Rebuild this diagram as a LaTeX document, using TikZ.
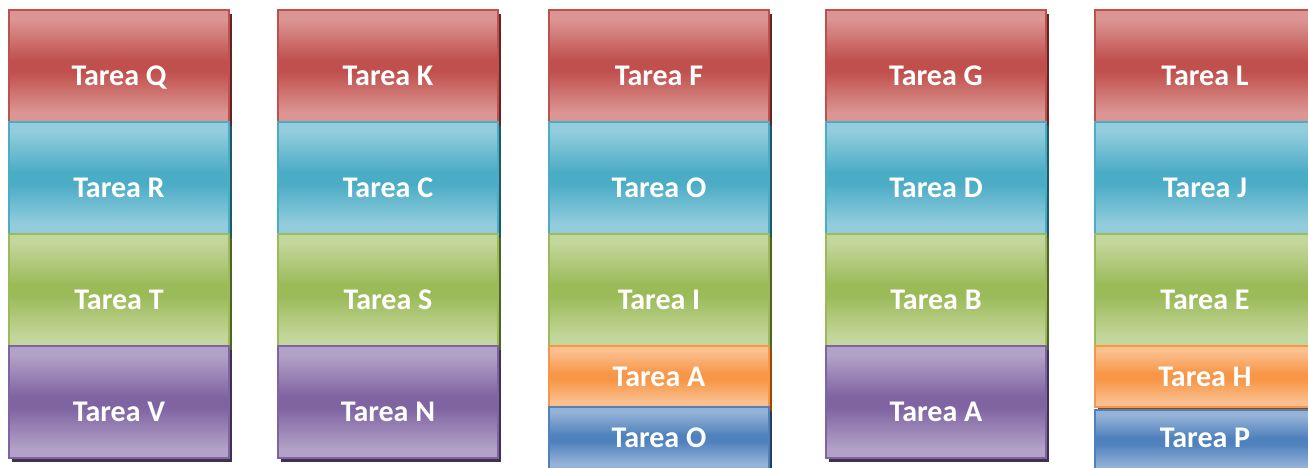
\documentclass[tikz,border=0pt]{standalone}
\usepackage{fontspec}
\setmainfont{Carlito}
\usetikzlibrary{shadows}
\definecolor{rL}{RGB}{219,150,148}\definecolor{rM}{RGB}{192,80,77}\definecolor{rD}{RGB}{99,37,35}
\definecolor{aL}{RGB}{147,205,221}\definecolor{aM}{RGB}{75,172,198}\definecolor{aD}{RGB}{32,88,103}
\definecolor{gL}{RGB}{195,214,155}\definecolor{gM}{RGB}{155,187,89}\definecolor{gD}{RGB}{79,98,40}
\definecolor{pL}{RGB}{179,162,199}\definecolor{pM}{RGB}{128,100,162}\definecolor{pD}{RGB}{64,49,82}
\definecolor{oL}{RGB}{250,192,144}\definecolor{oM}{RGB}{247,150,70}\definecolor{oD}{RGB}{152,72,6}
\definecolor{bL}{RGB}{149,179,215}\definecolor{bM}{RGB}{79,129,189}\definecolor{bD}{RGB}{36,64,97}
\newcommand\mkshade[3]{\pgfdeclareverticalshading{#1}{100bp}{color(0bp)=(#2); color(25bp)=(#2); color(29bp)=(#2); color(47.5bp)=(#3); color(52.5bp)=(#3); color(71bp)=(#2); color(75bp)=(#2); color(100bp)=(#2)}}
\mkshade{shr}{rL}{rM}\mkshade{sha}{aL}{aM}\mkshade{shg}{gL}{gM}
\mkshade{shp}{pL}{pM}\mkshade{sho}{oL}{oM}\mkshade{shb}{bL}{bM}
\tikzset{
  lbl/.style={text=white, font=\bfseries\fontsize{30}{34}\selectfont},
  tbox/.style n args={3}{rectangle, anchor=north west, minimum width=220pt, inner sep=0pt, outer sep=0pt,
    line width=1.5pt, draw=#2, shading=#1,
    drop shadow={shadow xshift=3pt, shadow yshift=-4pt, fill=#3, opacity=1}, lbl},
  tall/.style={minimum height=112pt, text height=39pt, text depth=0pt},
  short/.style={minimum height=61pt},
  red/.style={tbox={shr}{rM}{rD}}, aqua/.style={tbox={sha}{aM}{aD}},
  grn/.style={tbox={shg}{gM}{gD}}, pur/.style={tbox={shp}{pM}{pD}},
  org/.style={tbox={sho}{oM}{oD}}, blu/.style={tbox={shb}{bM}{bD}}
}
\begin{document}
\begin{tikzpicture}[x=1pt,y=-1pt]
\useasboundingbox (0,0) rectangle (1308,468);
\clip (0,0) rectangle (1308,468);
% column 1
\node[red,tall]  (q) at (9,10)  {Tarea Q};
\node[aqua,tall] (r) at (9,122) {Tarea R};
\node[grn,tall]  (t) at (9,234) {Tarea T};
\node[pur,tall]  (v) at (9,346) {Tarea V};
% column 2
\node[red,tall]  (k) at (278,10)  {Tarea K};
\node[aqua,tall] (c) at (278,122) {Tarea C};
\node[grn,tall]  (s) at (278,234) {Tarea S};
\node[pur,tall]  (n) at (278,346) {Tarea N};
% column 3
\node[red,tall]  (f)  at (549,10)  {Tarea F};
\node[aqua,tall] (o1) at (549,122) {Tarea O};
\node[grn,tall]  (i)  at (549,234) {Tarea I};
\node[org,short] (a1) at (549,346) {Tarea A};
\node[blu,minimum height=62pt] (o2) at (549,407) {};
\node[lbl] (o2t) at (659,438) {Tarea O};
% column 4
\node[red,tall]  (g)  at (826,10)  {Tarea G};
\node[aqua,tall] (d)  at (826,122) {Tarea D};
\node[grn,tall]  (b)  at (826,234) {Tarea B};
\node[pur,tall]  (a2) at (826,346) {Tarea A};
% column 5
\node[red,tall]  (l) at (1095,10)  {Tarea L};
\node[aqua,tall] (j) at (1095,122) {Tarea J};
\node[grn,tall]  (e) at (1095,234) {Tarea E};
\node[org,short] (h) at (1095,346) {Tarea H};
\node[blu,minimum height=62pt] (p) at (1095,410) {};
\node[lbl] (pt) at (1205,438) {Tarea P};
\end{tikzpicture}
\end{document}
